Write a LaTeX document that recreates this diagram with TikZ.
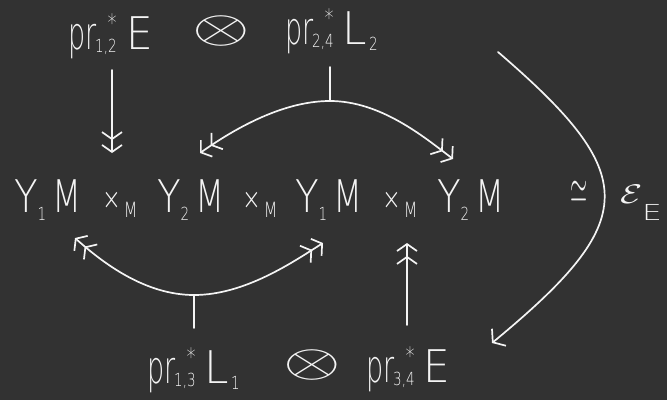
\documentclass[tikz,border=0pt]{standalone}
\usepackage{fontspec}
\usepackage{graphicx}
\usetikzlibrary{arrows.meta}
\newfontfamily\hw{DejaVuSans-ExtraLight.ttf}[FakeStretch=0.75]
\definecolor{bg}{HTML}{323232}
\definecolor{ink}{HTML}{F4F4F4}
\newcommand{\hwB}{\hw\fontsize{45}{45}\selectfont}
\newcommand{\hwS}{\hw\fontsize{18}{18}\selectfont}
\newcommand{\hwT}{\hw\fontsize{24}{24}\selectfont}
% pr with star over subscript
\newcommand{\prs}[1]{\scalebox{0.8}[1]{pr}\kern-1pt\raisebox{-3pt}{\hwS #1}\llap{\raisebox{18pt}{\hwT *}}}
\newcommand{\lsub}[1]{\kern2pt\raisebox{-6pt}{\hwS #1}}
\newcommand{\wE}{\scalebox{1.25}[1]{E}}
\newcommand{\wL}{\scalebox{1.3}[1]{L}}
% factor Y_i M
\newcommand{\fac}[1]{\scalebox{1.15}[1]{Y}\kern0pt\raisebox{-8pt}{\hwS #1}\kern6pt M}
% x_M
\newcommand{\xm}{\raisebox{3pt}{\hw\fontsize{30}{30}\selectfont\symbol{"00D7}}\kern3pt\raisebox{-5pt}{\hw\fontsize{21}{21}\selectfont M}}
\begin{document}
\begin{tikzpicture}[x=1pt,y=-1pt,
  every node/.style={text=ink, inner sep=0pt, outer sep=0pt},
  lbl/.style={font=\hwB, anchor=base west},
  line/.style={draw=ink, line width=1.7pt, line cap=round},
  dtip/.style={-{Straight Barb[length=7pt,width=20pt,sep=4pt] Straight Barb[length=7pt,width=20pt]}},
  stip/.style={-{Straight Barb[length=8pt,width=22pt]}}]
\fill[bg] (0,0) rectangle (667,400);
\useasboundingbox (0,0) rectangle (667,400);

% top labels
\node[lbl] (tl) at (68,49) {\prs{1,2}\kern10pt \wE};
\node (ot) at (221,31) {\scalebox{7.4}[4.6]{$\otimes$}};
\node[lbl] (tr) at (285,44) {\prs{2,4}\kern9pt \wL\lsub{2}};

% main row
\node[lbl] (f1) at (14,212) {\fac{1}};
\node[lbl] (x1) at (102,212) {\xm};
\node[lbl] (f2) at (157,212) {\fac{2}};
\node[lbl] (x2) at (242,212) {\xm};
\node[lbl] (f3) at (295,212) {\fac{1}};
\node[lbl] (x3) at (382,212) {\xm};
\node[lbl] (f4) at (437,212) {\fac{2}};

% iso and epsilon
\node (iso) at (579,192) {\scalebox{2.2}[4.6]{$\simeq$}};
\node[anchor=base west] (eps) at (620,203) {\scalebox{3.6}[2.7]{$\mathcal{E}$}\raisebox{-17pt}{\hw\fontsize{22}{22}\selectfont\scalebox{1.9}[1]{E}}};

% bottom labels
\node[lbl] (bl) at (147,383) {\prs{1,3}\kern9pt \wL\lsub{1}};
\node (bo) at (312,365) {\scalebox{7.4}[4.6]{$\otimes$}};
\node[lbl] (br) at (366,382) {\prs{3,4}\kern9pt \wE};

% coordinates
\coordinate (d1a) at (112,70);
\coordinate (d1b) at (112,153);
\coordinate (tv) at (330,67);
\coordinate (ta) at (330,101);
\coordinate (tL) at (200,153);
\coordinate (tR) at (453,159);
\coordinate (bv) at (194,328);
\coordinate (bb) at (194,295);
\coordinate (bL) at (75,238);
\coordinate (bR) at (323,243);
\coordinate (u1a) at (407,325);
\coordinate (u1b) at (407,243);
\coordinate (rs) at (498,52);
\coordinate (re) at (492,343);

% connectors
\draw[line, dtip] (d1a) -- (d1b);
\draw[line] (tv) -- (ta);
\draw[line, dtip] (ta) .. controls (280,101) and (230,132) .. (tL);
\draw[line, dtip] (ta) .. controls (380,101) and (423,136) .. (tR);
\draw[line] (bv) -- (bb);
\draw[line, dtip] (bb) .. controls (145,295) and (103,263) .. (bL);
\draw[line, dtip] (bb) .. controls (245,295) and (293,262) .. (bR);
\draw[line, dtip] (u1a) -- (u1b);
\draw[line, stip] (rs) .. controls (641,175) and (641,220) .. (re);
\end{tikzpicture}
\end{document}
